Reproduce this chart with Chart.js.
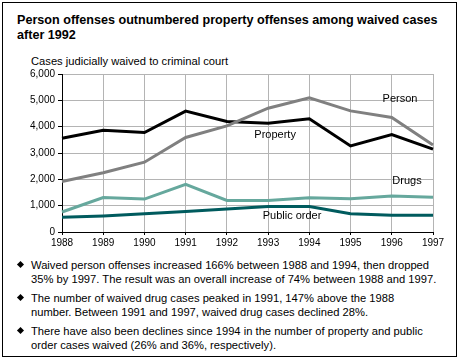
<!DOCTYPE html>
<html lang="en">
<head>
    <meta charset="UTF-8">
    <title>Waived cases by offense</title>
    <script src="https://cdn.jsdelivr.net/npm/chart.js"></script>
    <style>
        body {
            margin: 0;
            width: 460px;
            height: 362px;
            background: #fff;
            font-family: "Liberation Sans", Arial, sans-serif;
            color: #000;
        }
        #frame {
            position: absolute;
            left: 2px;
            top: 2px;
            width: 453px;
            height: 353px;
            border: 1px solid #000;
        }
        #title {
            position: absolute;
            left: 17px;
            top: 13px;
            font-size: 12.6px;
            font-weight: bold;
            line-height: 15px;
        }
        #ytitle {
            position: absolute;
            left: 31px;
            top: 55px;
            font-size: 11.2px;
        }
        #chartBox {
            position: absolute;
            left: 0;
            top: 0;
            width: 460px;
            height: 252px;
        }
        #notes {
            position: absolute;
            left: 16px;
            top: 258px;
            width: 432px;
            margin: 0;
            padding: 0;
            list-style: none;
            font-size: 11.2px;
            line-height: 14px;
        }
        #notes li {
            position: relative;
            padding-left: 15px;
            margin-bottom: 5px;
            white-space: nowrap;
        }
        #notes li::before {
            content: "";
            position: absolute;
            left: 2px;
            top: 4px;
            width: 5px;
            height: 5px;
            background: #000;
            transform: rotate(45deg);
        }
    </style>
</head>
<body>
    <div id="frame"></div>
    <div id="title">Person offenses outnumbered property offenses among waived cases<br>after 1992</div>
    <div id="ytitle">Cases judicially waived to criminal court</div>
    <div id="chartBox"><canvas id="chart"></canvas></div>
    <ul id="notes">
        <li>Waived person offenses increased 166% between 1988 and 1994, then dropped<br>35% by 1997. The result was an overall increase of 74% between 1988 and 1997.</li>
        <li>The number of waived drug cases peaked in 1991, 147% above the 1988<br>number. Between 1991 and 1997, waived drug cases declined 28%.</li>
        <li>There have also been declines since 1994 in the number of property and public<br>order cases waived (26% and 36%, respectively).</li>
    </ul>

    <script>
        // datos
        const years = ['1988', '1989', '1990', '1991', '1992', '1993', '1994', '1995', '1996', '1997'];
        const person = [1920, 2250, 2650, 3590, 4030, 4700, 5100, 4600, 4350, 3300];
        const property = [3560, 3860, 3780, 4590, 4200, 4130, 4300, 3270, 3700, 3150];
        const drugs = [760, 1310, 1250, 1810, 1200, 1200, 1300, 1260, 1370, 1320];
        const publicOrder = [560, 610, 690, 780, 870, 970, 970, 690, 640, 640];
        const yTicks = [0, 1000, 2000, 3000, 4000, 5000, 6000];

        // etiquetas de las series (posicion en coordenadas de datos)
        const seriesLabels = [
            { text: 'Person', x: 8.2, y: 5050 },
            { text: 'Property', x: 5.17, y: 3680 },
            { text: 'Drugs', x: 8.37, y: 1940 },
            { text: 'Public order', x: 5.58, y: 610 }
        ];

        const labelPlugin = {
            id: 'seriesLabels',
            afterDatasetsDraw(chart) {
                const ctx = chart.ctx;
                const xs = chart.scales.x;
                const ys = chart.scales.y;
                ctx.save();
                ctx.font = '11px "Liberation Sans", Arial, sans-serif';
                ctx.fillStyle = '#000';
                ctx.textAlign = 'center';
                ctx.textBaseline = 'middle';
                seriesLabels.forEach(l => {
                    ctx.fillText(l.text, xs.getPixelForValue(l.x), ys.getPixelForValue(l.y));
                });
                ctx.restore();
            }
        };

        const tickFont = { family: '"Liberation Sans", Arial, sans-serif', size: 10 };

        new Chart(document.getElementById('chart'), {
            type: 'line',
            data: {
                labels: years,
                datasets: [
                    { label: 'Person', data: person, borderColor: '#808080' },
                    { label: 'Property', data: property, borderColor: '#000000' },
                    { label: 'Drugs', data: drugs, borderColor: '#66a89d' },
                    { label: 'Public order', data: publicOrder, borderColor: '#005b5e' }
                ]
            },
            options: {
                responsive: true,
                maintainAspectRatio: false,
                animation: false,
                layout: {
                    padding: { left: 0, right: 27, top: 74, bottom: 2 }
                },
                elements: {
                    line: { borderWidth: 3, tension: 0, borderJoinStyle: 'miter' },
                    point: { radius: 0 }
                },
                plugins: {
                    legend: { display: false },
                    tooltip: { enabled: false }
                },
                scales: {
                    x: {
                        grid: { color: '#b4b4b4', tickColor: '#000', tickLength: 3 },
                        border: { color: '#000', width: 1 },
                        ticks: { font: tickFont, color: '#000', padding: 2, maxRotation: 0, autoSkip: false },
                        afterFit: s => { s.height = 18; }
                    },
                    y: {
                        min: 0,
                        max: 6000,
                        afterBuildTicks: s => { s.ticks = yTicks.map(v => ({ value: v })); },
                        grid: { color: '#b4b4b4', tickColor: '#000', tickLength: 4 },
                        border: { color: '#000', width: 1 },
                        ticks: {
                            font: tickFont,
                            color: '#000',
                            padding: 3,
                            callback: v => v.toLocaleString('en-US')
                        },
                        afterFit: s => { s.width = 62; }
                    }
                }
            },
            plugins: [labelPlugin]
        });
    </script>
</body>
</html>
